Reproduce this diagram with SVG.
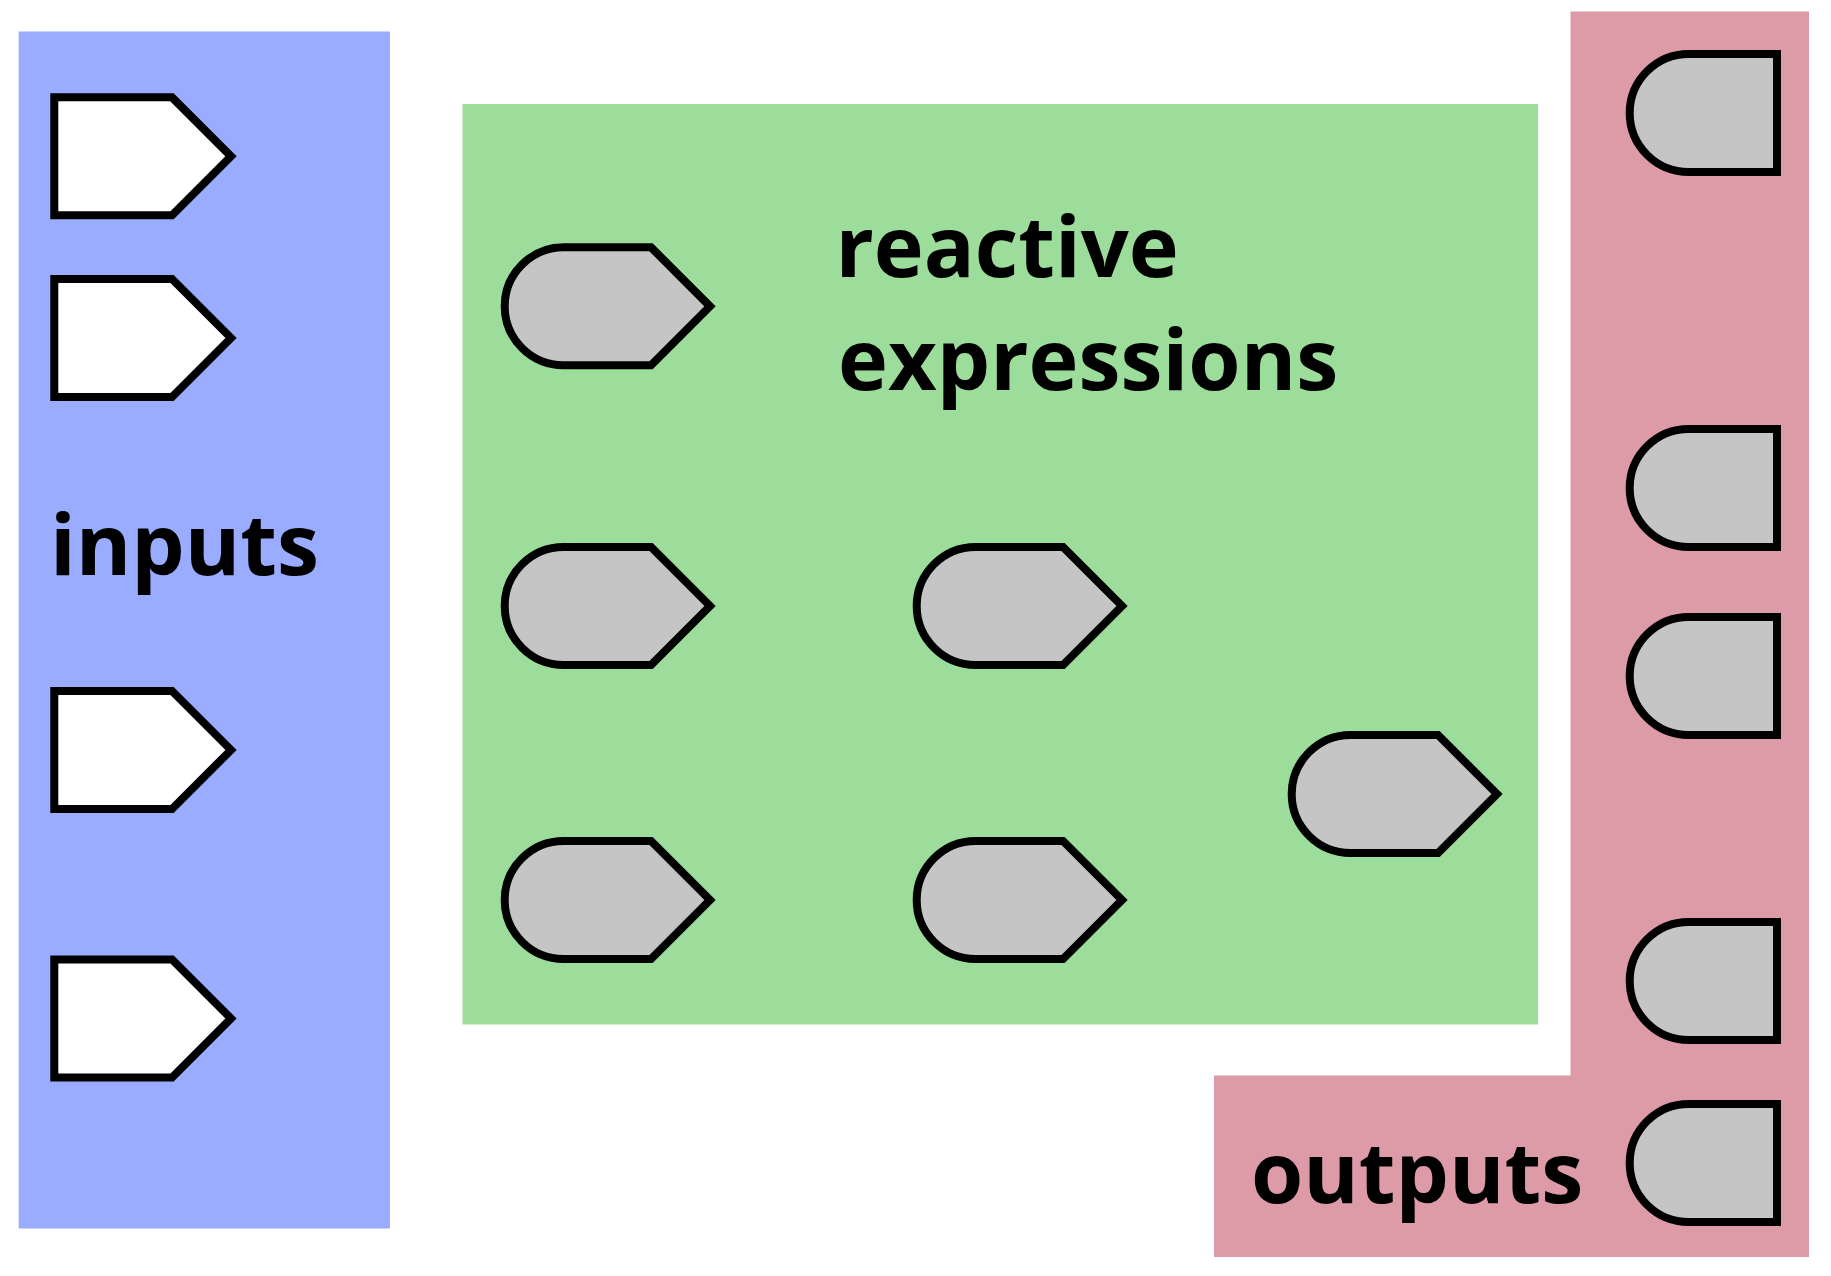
<svg xmlns="http://www.w3.org/2000/svg" width="1831" height="1276" viewBox="0 0 1831 1276">
<style>
.lbl{font-family:"Open Sans","Noto Sans","DejaVu Sans",sans-serif;font-weight:bold;font-size:84.5px;fill:#000}
.in{fill:#fff;stroke:#000;stroke-width:8}
.sh{fill:#c5c5c5;stroke:#000;stroke-width:8}
</style>
<rect width="1831" height="1276" fill="#fff"/>
<g id="inputs">
<rect x="18.7" y="31.5" width="371.3" height="1197" fill="#99acff"/>
<text class="lbl" x="50" y="574.5">inputs</text>
</g>
<g id="reactive-expressions">
<rect x="462.4" y="104" width="1075.6" height="920.5" fill="#9ddd9b"/>
<text class="lbl" x="835.5" y="276.7">reactive</text>
<text class="lbl" x="838" y="390">expressions</text>
</g>
<g id="outputs">
<path d="M1570.5 11.5 H1809 V1257 H1214 V1075.5 H1570.5 Z" fill="#dd9ba8"/>
<text class="lbl" x="1251" y="1203">outputs</text>
</g>
<g id="connectors"></g>
<g id="input-1"><path class="in" d="M54.3 97.3 H172 L231 156.3 L172 215.3 H54.3 Z"/></g>
<g id="input-2"><path class="in" d="M54.3 279 H172 L231 338 L172 397 H54.3 Z"/></g>
<g id="input-3"><path class="in" d="M54.3 691 H172 L231 750 L172 809 H54.3 Z"/></g>
<g id="input-4"><path class="in" d="M54.3 959.5 H172 L231 1018.5 L172 1077.5 H54.3 Z"/></g>
<g id="reactive-1"><path class="sh" d="M563.7 247.3 H651 L710 306.3 L651 365.3 H563.7 A59 59 0 0 1 563.7 247.3 Z"/></g>
<g id="reactive-2"><path class="sh" d="M563.7 547 H651 L710 606 L651 665 H563.7 A59 59 0 0 1 563.7 547 Z"/></g>
<g id="reactive-3"><path class="sh" d="M563.7 841 H651 L710 900 L651 959 H563.7 A59 59 0 0 1 563.7 841 Z"/></g>
<g id="reactive-4"><path class="sh" d="M975.7 547 H1063 L1122 606 L1063 665 H975.7 A59 59 0 0 1 975.7 547 Z"/></g>
<g id="reactive-5"><path class="sh" d="M975.7 841 H1063 L1122 900 L1063 959 H975.7 A59 59 0 0 1 975.7 841 Z"/></g>
<g id="reactive-6"><path class="sh" d="M1350.7 735 H1438 L1497 794 L1438 853 H1350.7 A59 59 0 0 1 1350.7 735 Z"/></g>
<g id="output-1"><path class="sh" d="M1688.7 54 H1777 V172 H1688.7 A59 59 0 0 1 1688.7 54 Z"/></g>
<g id="output-2"><path class="sh" d="M1688.7 429 H1777 V547 H1688.7 A59 59 0 0 1 1688.7 429 Z"/></g>
<g id="output-3"><path class="sh" d="M1688.7 617 H1777 V735 H1688.7 A59 59 0 0 1 1688.7 617 Z"/></g>
<g id="output-4"><path class="sh" d="M1688.7 922 H1777 V1040 H1688.7 A59 59 0 0 1 1688.7 922 Z"/></g>
<g id="output-5"><path class="sh" d="M1688.7 1104 H1777 V1222 H1688.7 A59 59 0 0 1 1688.7 1104 Z"/></g>
</svg>
